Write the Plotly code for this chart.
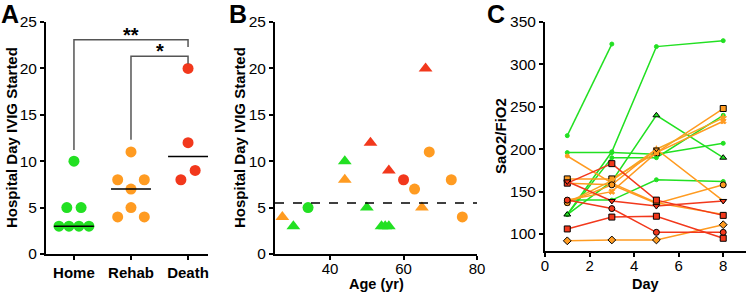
import statistics
import plotly.graph_objects as go

GREEN = "#22e022"
ORANGE = "#ff9b21"
RED = "#f2381c"
FONT = "Arial, 'Liberation Sans', sans-serif"

# ---------------- Panel A data ----------------
groups = ["Home", "Rehab", "Death"]
home_days = [3, 3, 3, 3, 5, 5, 10]
rehab_days = [4, 4, 5, 7, 8, 8, 11]
death_days = [8, 9, 12, 20]
group_colors = [GREEN, ORANGE, RED]

# ---------------- Panel B data ----------------
ages = [30, 54, 55, 56, 34, 50, 44, 27, 44, 63, 65, 67, 73, 76, 51, 56, 60, 66]
ivig_day = [3, 3, 3, 3, 5, 5, 10, 4, 8, 7, 5, 11, 8, 4, 12, 9, 8, 20]
outcome = ["Home"] * 7 + ["Rehab"] * 7 + ["Death"] * 4
shape_kind = ["tri", "tri", "tri", "tri", "circ", "tri", "tri",
              "tri", "tri", "circ", "tri", "circ", "circ", "circ",
              "tri", "tri", "circ", "tri"]
threshold_day = 5.5

# ---------------- Panel C data ----------------
days = [1, 3, 5, 8]
g1 = [216, 324, None, None]
g2 = [123, 197, 321, 328]
g3 = [196, 196, 194, 207]
g4 = [123, 190, 190, 240]
g5 = [123, 162, 240, 190]
g6 = [140, 140, 164, 162]
o1 = [165, 165, 196, 248]
o2 = [192, 160, 137, 123]
o3 = [140, 150, 196, 233]
o4 = [137, 163, 200, 237]
o5 = [160, 158, 200, 139]
o6 = [92, 93, 93, 111]
o7 = [137, 158, 136, 158]
r1 = [160, 183, 140, 122]
r2 = [140, 130, 102, 102]
r3 = [106, 120, 121, 95]
r4 = [162, 139, 133, 139]

fig = go.Figure()

# ---------- Panel A: beeswarm-like layout ----------
def swarm_offsets(vals, tol=1.2):
    order = sorted(range(len(vals)), key=lambda i: vals[i])
    bins, cur = [], []
    for i in order:
        if cur and vals[i] - vals[cur[0]] > tol:
            bins.append(cur)
            cur = []
        cur.append(i)
    if cur:
        bins.append(cur)
    offs = [0.0] * len(vals)
    for b in bins:
        n = len(b)
        if n == 1:
            continue
        sp = min(0.25, 0.7 / n)
        pos = [(k - (n - 1) / 2) * sp for k in range(n)]
        pos_sorted = sorted(pos, key=lambda p: (-abs(p), p))
        cnt = {}
        for i in b:
            cnt[vals[i]] = cnt.get(vals[i], 0) + 1
        items = sorted(b, key=lambda i: (-cnt[vals[i]], vals[i]))
        for i, p in zip(items, pos_sorted):
            offs[i] = p
    return offs

for gi, (vals, col) in enumerate(zip([home_days, rehab_days, death_days], group_colors)):
    offs = swarm_offsets(vals)
    fig.add_trace(go.Scatter(
        x=[gi + o for o in offs], y=vals, mode="markers",
        marker=dict(size=11, color=col, opacity=1, line=dict(width=0)),
        xaxis="x", yaxis="y", showlegend=False, hoverinfo="skip"))
    med = statistics.median(vals)
    fig.add_shape(type="line", xref="x", yref="y", x0=gi - 0.35, x1=gi + 0.35,
                  y0=med, y1=med, line=dict(color="black", width=1.5), layer="above")

# significance brackets
br = dict(color="#555555", width=1.5)
fig.add_shape(type="path", xref="x", yref="y",
              path="M 0,11.2 L 0,23.1 L 2,23.1 L 2,22.3", line=br)
fig.add_shape(type="path", xref="x", yref="y",
              path="M 1,12.3 L 1,21.3 L 2,21.3 L 2,20.5", line=br)
fig.add_annotation(x=1, y=23.1, xref="x", yref="y", text="<b>**</b>", showarrow=False,
                   yanchor="bottom", font=dict(size=20, family=FONT, color="black"), yshift=-8)
fig.add_annotation(x=1.5, y=21.3, xref="x", yref="y", text="<b>*</b>", showarrow=False,
                   yanchor="bottom", font=dict(size=20, family=FONT, color="black"), yshift=-8)

# ---------- Panel B ----------
col_map = {"Home": GREEN, "Rehab": ORANGE, "Death": RED}
sym_map = {"tri": "triangle-up", "circ": "circle"}
fig.add_trace(go.Scatter(
    x=ages, y=ivig_day, mode="markers",
    marker=dict(size=[11 if s == "circ" else 12 for s in shape_kind],
                color=[col_map[o] for o in outcome], opacity=1,
                symbol=[sym_map[s] for s in shape_kind], line=dict(width=0)),
    xaxis="x2", yaxis="y2", showlegend=False, hoverinfo="skip"))
fig.add_shape(type="line", xref="x2", yref="y2", x0=25, x1=80, y0=threshold_day, y1=threshold_day,
              line=dict(color="black", width=1.5, dash="dash"))

# ---------- Panel C ----------
series_c = [
    (g1, GREEN, "circle", 4, GREEN), (g2, GREEN, "circle", 4, GREEN),
    (g3, GREEN, "circle", 4, GREEN), (g4, GREEN, "circle", 4, GREEN),
    (g5, GREEN, "triangle-up", 6, "black"), (g6, GREEN, "circle", 4, GREEN),
    (o1, ORANGE, "square", 6, "black"), (o2, ORANGE, "circle", 4, ORANGE),
    (o3, ORANGE, "x", 5, ORANGE), (o4, "#f5a623", "star", 5, ORANGE),
    (o5, ORANGE, "triangle-down", 5, "black"), (o6, ORANGE, "diamond", 6, "black"),
    (o7, ORANGE, "circle", 6, "black"),
    (r1, RED, "square", 6, "black"), (r2, RED, "circle", 6, "black"),
    (r3, RED, "square", 6, "black"), (r4, RED, "triangle-down", 6, "black"),
]
for vals, col, sym, sz, edge in series_c:
    xs = [d for d, v in zip(days, vals) if v is not None]
    ys = [v for v in vals if v is not None]
    fig.add_trace(go.Scatter(
        x=xs, y=ys, mode="lines+markers", line=dict(color=col, width=1.5),
        marker=dict(symbol=sym, size=sz, color=col, opacity=1, line=dict(color=edge, width=1)),
        xaxis="x3", yaxis="y3", showlegend=False, hoverinfo="skip"))

W, H = 746, 292
def px(x):
    return x / W
def py(y):
    return (H - y) / H

axis_common = dict(showline=True, linecolor="black", linewidth=2, ticks="outside",
                   ticklen=4, tickwidth=2, tickcolor="black", showgrid=False,
                   zeroline=False, automargin=False,
                   tickfont=dict(size=15.5, color="black", family=FONT))

fig.update_layout(
    template="none",
    width=W, height=H, margin=dict(l=0, r=0, t=0, b=0, pad=0, autoexpand=False),
    paper_bgcolor="white", plot_bgcolor="white", showlegend=False,
    font=dict(family=FONT, color="black"),
    xaxis=dict(axis_common, domain=[px(46), px(208)], range=[-0.49, 2.35],
               tickvals=[0, 1, 2], ticktext=["<b>%s</b>" % g for g in groups],
               tickfont=dict(size=15, color="black", family=FONT), anchor="y"),
    yaxis=dict(axis_common, domain=[py(254), py(22)], range=[0, 25],
               tickvals=[0, 5, 10, 15, 20, 25], anchor="x"),
    xaxis2=dict(axis_common, domain=[px(275), px(477)], range=[25, 80],
                tickvals=[40, 60, 80], anchor="y2", ticklabelstandoff=-4,
                tickfont=dict(size=15, color="black", family=FONT)),
    yaxis2=dict(axis_common, domain=[py(254), py(22)], range=[0, 25],
                tickvals=[0, 5, 10, 15, 20, 25], anchor="x2"),
    xaxis3=dict(axis_common, domain=[px(545), px(745.5)], range=[0, 9],
                tickvals=[0, 2, 4, 6, 8], anchor="y3", ticklabelstandoff=-4,
                tickfont=dict(size=15, color="black", family=FONT)),
    yaxis3=dict(axis_common, domain=[py(251), py(22)], range=[80, 350],
                tickvals=[100, 150, 200, 250, 300, 350], anchor="x3"),
)

def label(text, x, y, size=15, angle=0, xanchor="center"):
    fig.add_annotation(x=px(x), y=py(y), xref="paper", yref="paper", text="<b>%s</b>" % text,
                       showarrow=False, textangle=angle, xanchor=xanchor, yanchor="middle",
                       font=dict(size=size, family=FONT, color="black"))

label("Hospital Day IVIG Started", 11, 138, angle=-90)
label("Hospital Day IVIG Started", 239, 138, angle=-90)
label("SaO2/FiO2", 500, 136, angle=-90)
label("Age (yr)", 376, 284, size=14.5)
label("Day", 645, 284, size=14.5)
label("A", -1, 14, size=25, xanchor="left")
label("B", 227, 14, size=25, xanchor="left")
label("C", 485, 14, size=25, xanchor="left")

fig.write_html("out.html", config={"displayModeBar": False},
               post_script="document.body.style.margin='0';document.body.style.padding='0';"
                           "document.body.style.overflow='hidden';")
